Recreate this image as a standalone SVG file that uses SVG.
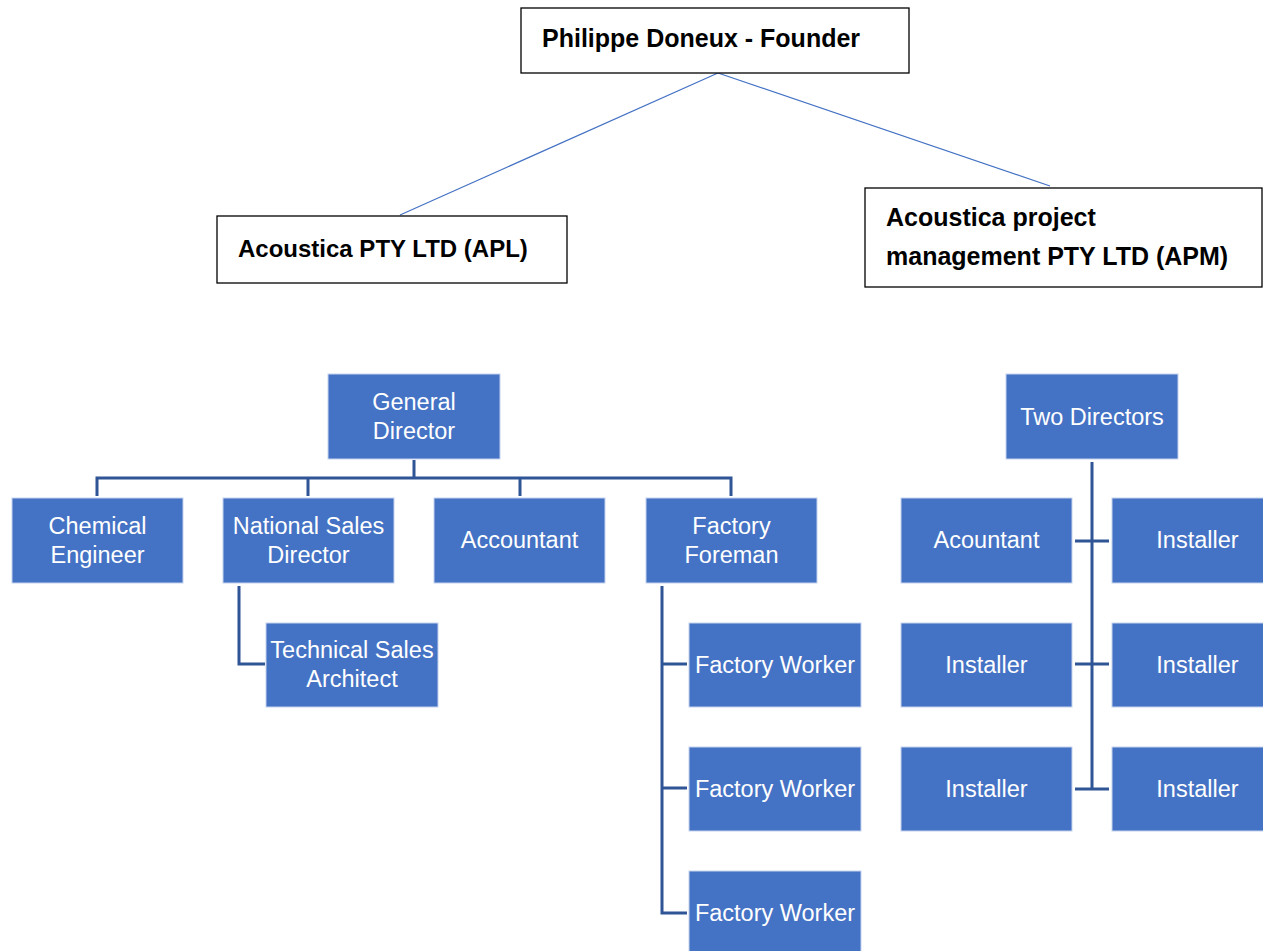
<svg xmlns="http://www.w3.org/2000/svg" width="1263" height="951" viewBox="0 0 1263 951">
<style>
.wbox{fill:#ffffff;stroke:#000000;stroke-width:1.3}
.bt{font-family:"Liberation Sans",Arial,sans-serif;font-weight:bold;font-size:25px;fill:#000000}
.box{fill:#4472C4;stroke:#C5D3EE;stroke-width:1}
.t{font-family:"Liberation Sans",Arial,sans-serif;font-size:23.5px;fill:#ffffff;text-anchor:middle}
.thin{stroke:#4472C4;stroke-width:1.2;fill:none}
.conn{stroke:#2F5597;stroke-width:3;fill:none}
</style>
<rect width="1263" height="951" fill="#ffffff"/>
<g id="connectors">
<line class="thin" x1="718" y1="73" x2="400" y2="215"/>
<line class="thin" x1="718" y1="73" x2="1050" y2="186"/>
<path class="conn" d="M414 460 V478 M97 496 V478 H731 V496 M308 478 V496 M520 478 V496"/>
<path class="conn" d="M239 586 V664 H265"/>
<path class="conn" d="M662 586 V913 H687 M662 664 H687 M662 788 H687"/>
<path class="conn" d="M1092 462 V789 M1075 541 H1109 M1075 664 H1109 M1075 789 H1109"/>
</g>
<g id="founder"><rect class="wbox" x="521" y="8" width="388" height="65"/><text class="bt" x="542" y="47">Philippe Doneux - Founder</text></g>
<g id="apl"><rect class="wbox" x="217" y="216" width="350" height="67"/><text class="bt" x="238" y="257" style="font-size:24px">Acoustica PTY LTD (APL)</text></g>
<g id="apm"><rect class="wbox" x="865" y="188" width="397" height="99"/><text class="bt" x="886" y="226">Acoustica project</text><text class="bt" x="886" y="265">management PTY LTD (APM)</text></g>
<g id="general-director"><rect class="box" x="328" y="374" width="172" height="85"/><text class="t" x="414" y="410">General</text><text class="t" x="414" y="439">Director</text></g>
<g id="chemical-engineer"><rect class="box" x="12" y="498" width="171" height="85"/><text class="t" x="97.5" y="534">Chemical</text><text class="t" x="97.5" y="563">Engineer</text></g>
<g id="national-sales-director"><rect class="box" x="223" y="498" width="171" height="85"/><text class="t" x="308.5" y="534">National Sales</text><text class="t" x="308.5" y="563">Director</text></g>
<g id="accountant"><rect class="box" x="434" y="498" width="171" height="85"/><text class="t" x="519.5" y="548">Accountant</text></g>
<g id="factory-foreman"><rect class="box" x="646" y="498" width="171" height="85"/><text class="t" x="731.5" y="534">Factory</text><text class="t" x="731.5" y="563">Foreman</text></g>
<g id="technical-sales-architect"><rect class="box" x="266" y="623" width="172" height="84"/><text class="t" x="352" y="658">Technical Sales</text><text class="t" x="352" y="687">Architect</text></g>
<g id="factory-worker-1"><rect class="box" x="689" y="623" width="172" height="84"/><text class="t" x="775" y="673">Factory Worker</text></g>
<g id="factory-worker-2"><rect class="box" x="689" y="747" width="172" height="84"/><text class="t" x="775" y="797">Factory Worker</text></g>
<g id="factory-worker-3"><rect class="box" x="689" y="871" width="172" height="84"/><text class="t" x="775" y="921">Factory Worker</text></g>
<g id="two-directors"><rect class="box" x="1006" y="374" width="172" height="85"/><text class="t" x="1092" y="425">Two Directors</text></g>
<g id="acountant"><rect class="box" x="901" y="498" width="171" height="85"/><text class="t" x="986.5" y="548">Acountant</text></g>
<g id="installer-r1"><rect class="box" x="1112" y="498" width="171" height="85"/><text class="t" x="1197.5" y="548">Installer</text></g>
<g id="installer-l2"><rect class="box" x="901" y="623" width="171" height="84"/><text class="t" x="986.5" y="673">Installer</text></g>
<g id="installer-r2"><rect class="box" x="1112" y="623" width="171" height="84"/><text class="t" x="1197.5" y="673">Installer</text></g>
<g id="installer-l3"><rect class="box" x="901" y="747" width="171" height="84"/><text class="t" x="986.5" y="797">Installer</text></g>
<g id="installer-r3"><rect class="box" x="1112" y="747" width="171" height="84"/><text class="t" x="1197.5" y="797">Installer</text></g>
</svg>
